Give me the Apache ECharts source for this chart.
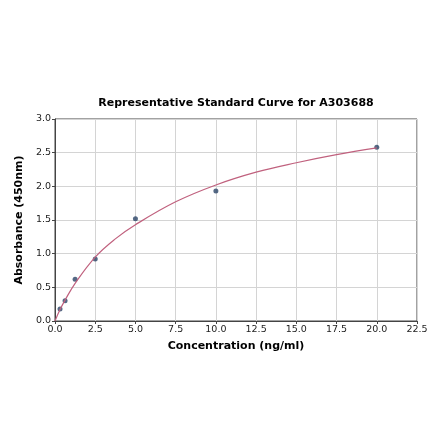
<!doctype html>
<html>
    <head>
        <meta charset="utf-8">
        <title>Standard Curve</title>
        <style>
            html, body { margin: 0; padding: 0; background: #fff; }
            #main { width: 440px; height: 441px; }
        </style>
    </head>
    <body>
        <div id="main"></div>
        <script src="https://cdn.jsdelivr.net/npm/echarts@6/dist/echarts.min.js"></script>
        <script>
            // standard points
            var concentration = [0.3125, 0.625, 1.25, 2.5, 5, 10, 20];
            var absorbance = [0.18, 0.30, 0.62, 0.92, 1.52, 1.93, 2.58];

            // fitted curve
            var curveX = [0, 0.3125, 0.625, 1.25, 2.5, 3.75, 5, 7.5, 10, 12.5, 15, 17.5, 20];
            var curveY = [0, 0.17, 0.31, 0.56, 0.95, 1.22, 1.43, 1.77, 2.02, 2.21, 2.35, 2.47, 2.57];

            var font = 'DejaVu Sans';

            var chart = echarts.init(document.getElementById('main'));

            chart.setOption({
                animation: false,
                title: {
                    text: 'Representative Standard Curve for A303688',
                    left: 231,
                    top: 93,
                    textAlign: 'center',
                    textStyle: { fontFamily: font, fontSize: 11, fontWeight: 'bold', color: '#000' }
                },
                grid: {
                    left: 55, right: 23, top: 119, bottom: 120,
                    show: true,
                    borderColor: '#444',
                    borderWidth: 1
                },
                xAxis: {
                    type: 'value',
                    min: 0, max: 22.5, interval: 2.5,
                    name: 'Concentration (ng/ml)',
                    nameLocation: 'middle',
                    nameGap: 20,
                    nameTextStyle: { fontFamily: font, fontSize: 11, fontWeight: 'bold', color: '#000' },
                    axisLine: { lineStyle: { color: '#444' } },
                    axisTick: { length: 3, lineStyle: { color: '#444' } },
                    axisLabel: {
                        fontFamily: font, fontSize: 9.5, color: '#222', margin: 4,
                        formatter: function (v) { return v.toFixed(1); }
                    },
                    splitLine: { lineStyle: { color: '#d4d4d4' } }
                },
                yAxis: {
                    type: 'value',
                    min: 0, max: 3, interval: 0.5,
                    name: 'Absorbance (450nm)',
                    nameLocation: 'middle',
                    nameGap: 26,
                    nameTextStyle: { fontFamily: font, fontSize: 11, fontWeight: 'bold', color: '#000' },
                    axisLine: { show: true, lineStyle: { color: '#444' } },
                    axisTick: { show: true, length: 3, lineStyle: { color: '#444' } },
                    axisLabel: {
                        fontFamily: font, fontSize: 9.5, color: '#222', margin: 4,
                        formatter: function (v) { return v.toFixed(1); }
                    },
                    splitLine: { lineStyle: { color: '#d4d4d4' } }
                },
                series: [{
                    type: 'line',
                    data: curveX.map(function (x, i) { return [x, curveY[i]]; }),
                    smooth: 0.4,
                    showSymbol: false,
                    lineStyle: { color: '#c0617e', width: 1.2 },
                    silent: true
                }, {
                    type: 'scatter',
                    data: concentration.map(function (x, i) { return [x, absorbance[i]]; }),
                    symbolSize: 5,
                    itemStyle: { color: '#2b4466' }
                }]
            });
        </script>
    </body>
</html>
